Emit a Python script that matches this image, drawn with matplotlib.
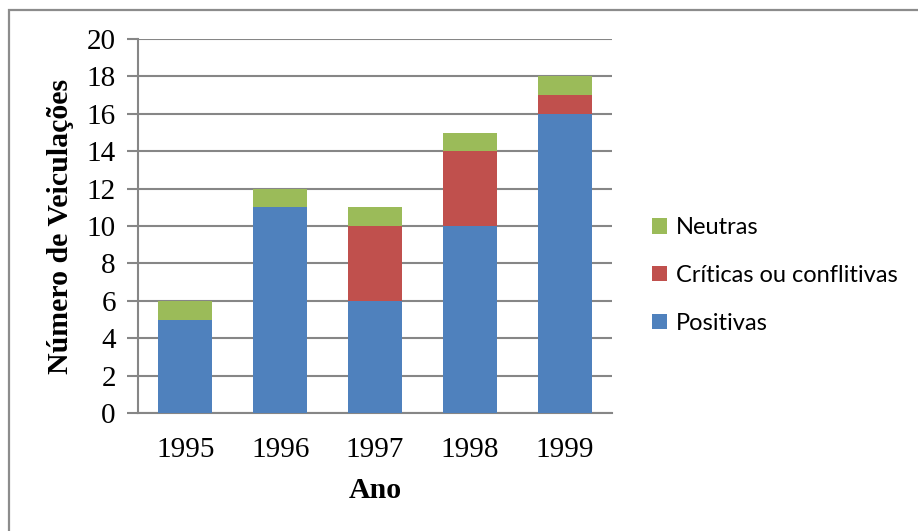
import matplotlib.pyplot as plt
from matplotlib.patches import Rectangle
import numpy as np

anos = ["1995", "1996", "1997", "1998", "1999"]
positivas = [5, 11, 6, 10, 16]
criticas = [0, 0, 4, 4, 1]
neutras = [1, 1, 1, 1, 1]

azul = "#4F81BD"
vermelho = "#C0504D"
verde = "#9BBB59"
cinza = "#868686"

W, H = 918, 531
fig = plt.figure(figsize=(W / 100, H / 100), dpi=100)

# moldura cinza (so esquerda e topo aparecem)
fig.patches.append(Rectangle((9 / W, -0.1), 1.2, 1 - 10 / H + 0.1,
                             transform=fig.transFigure, fill=False,
                             edgecolor="#8c8c8c", linewidth=1.6))

ax = fig.add_axes([138 / W, 1 - 413 / H, (612 - 138) / W, (413 - 39) / H])

x = np.arange(len(anos))
larg = 0.57
base2 = np.array(positivas)
base3 = base2 + np.array(criticas)
b1 = ax.bar(x, positivas, larg, color=azul, label="Positivas", zorder=3)
b2 = ax.bar(x, criticas, larg, bottom=base2, color=vermelho,
            label="Críticas ou conflitivas", zorder=3)
b3 = ax.bar(x, neutras, larg, bottom=base3, color=verde, label="Neutras", zorder=3)

ax.set_xlim(-0.5, len(anos) - 0.5)
ax.set_ylim(0, 20)
ax.set_yticks(range(0, 21, 2))
ax.set_xticks(x)
ax.set_xticklabels(anos)
ax.yaxis.grid(True, color=cinza, linewidth=1.5, zorder=0)
ax.set_axisbelow(True)

for s in ["top", "right"]:
    ax.spines[s].set_visible(False)
for s in ["left", "bottom"]:
    ax.spines[s].set_color(cinza)
    ax.spines[s].set_linewidth(1.5)

serif = "Liberation Serif"
ax.tick_params(axis="y", length=8, width=1.5, color=cinza, pad=8)
ax.tick_params(axis="x", length=0, pad=17)
for t in ax.get_xticklabels() + ax.get_yticklabels():
    t.set_fontfamily(serif)
    t.set_fontsize(21)

ax.set_xlabel("Ano", fontfamily=serif, fontweight="bold", fontsize=21.5, labelpad=10)
ax.set_ylabel("Número de Veiculações", fontfamily=serif, fontweight="bold",
              fontsize=21.5, labelpad=9)

leg = fig.legend(handles=[b3, b2, b1], loc="upper left",
                 bbox_to_anchor=(643 / W, 1 - 208 / H), frameon=False,
                 prop={"family": "Lato", "size": 17},
                 handlelength=0.62, handleheight=0.62, handletextpad=0.38,
                 labelspacing=1.13, borderaxespad=0)

fig.savefig("out.png", dpi=100)
